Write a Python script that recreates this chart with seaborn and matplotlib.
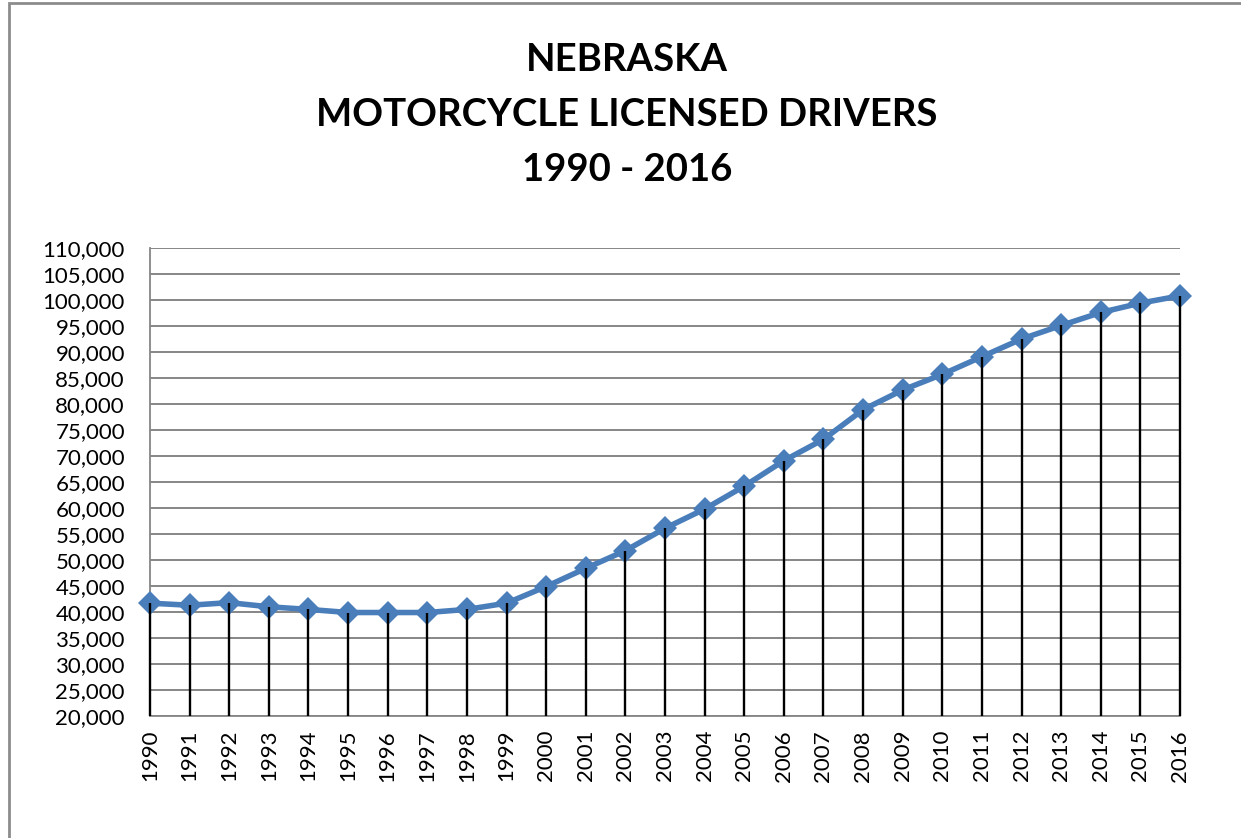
import matplotlib
matplotlib.use('Agg')
import matplotlib.pyplot as plt
import matplotlib.patches as mpatches
from matplotlib.ticker import FuncFormatter, MultipleLocator
import seaborn as sns
import pandas as pd

years = list(range(1990, 2017))
drivers = [41700, 41300, 41800, 41000, 40500, 39900, 39900, 39900, 40500, 41700,
           44900, 48400, 51800, 56100, 59800, 64200, 69100, 73200, 78900, 82700,
           85700, 89100, 92500, 95100, 97600, 99400, 100800]
title_lines = ['NEBRASKA', 'MOTORCYCLE LICENSED DRIVERS', '1990 - 2016']

df = pd.DataFrame({'year': years, 'drivers': drivers})

sns.set_style('white')
plt.rcParams['font.family'] = ['Lato', 'DejaVu Sans']

fig = plt.figure(figsize=(12.41, 8.38), dpi=100)
ax = fig.add_axes([150 / 1241, 1 - 716 / 838, 1030 / 1241, 468 / 838])

grid_col = '#868686'
ax.set_ylim(20000, 110000)
ax.set_xlim(1990, 2016)
ax.yaxis.set_major_locator(MultipleLocator(5000))
ax.yaxis.grid(True, color=grid_col, linewidth=1.4)
ax.set_axisbelow(True)

sns.lineplot(data=df, x='year', y='drivers', ax=ax, color='#4a7ebb',
             linewidth=4, marker='D', markersize=12, markeredgewidth=0,
             zorder=3, clip_on=False)
# drop lines from each point down to the axis
ax.vlines(df['year'], 20000, df['drivers'], colors='black', linewidth=1.7,
          zorder=4, clip_on=False)

ax.set_xticks(years)
ax.set_xticklabels([str(y) for y in years], rotation=90)
ax.yaxis.set_major_formatter(FuncFormatter(lambda v, p: f'{int(v):,}'))
ax.tick_params(axis='both', labelsize=16, colors=grid_col, labelcolor='black',
               length=7, width=1.3, direction='out')
ax.tick_params(axis='x', pad=3)
ax.tick_params(axis='y', pad=11)
ax.set_xlabel('')
ax.set_ylabel('')

for side in ['top', 'right']:
    ax.spines[side].set_visible(False)
for side in ['left', 'bottom']:
    ax.spines[side].set_color(grid_col)
    ax.spines[side].set_linewidth(1.3)

for i, line in enumerate(title_lines):
    fig.text(627 / 1241, 1 - (60 + 55 * i) / 838, line, ha='center', va='center',
             fontsize=27.5, fontweight='bold', color='black')

frame = mpatches.Rectangle((9 / 1241, -0.1), 1.2, 1.1 - 3 / 838,
                           transform=fig.transFigure, fill=False,
                           edgecolor='#8c8c8c', linewidth=2)
fig.patches.append(frame)

fig.savefig('out.png', dpi=100, facecolor='white')
